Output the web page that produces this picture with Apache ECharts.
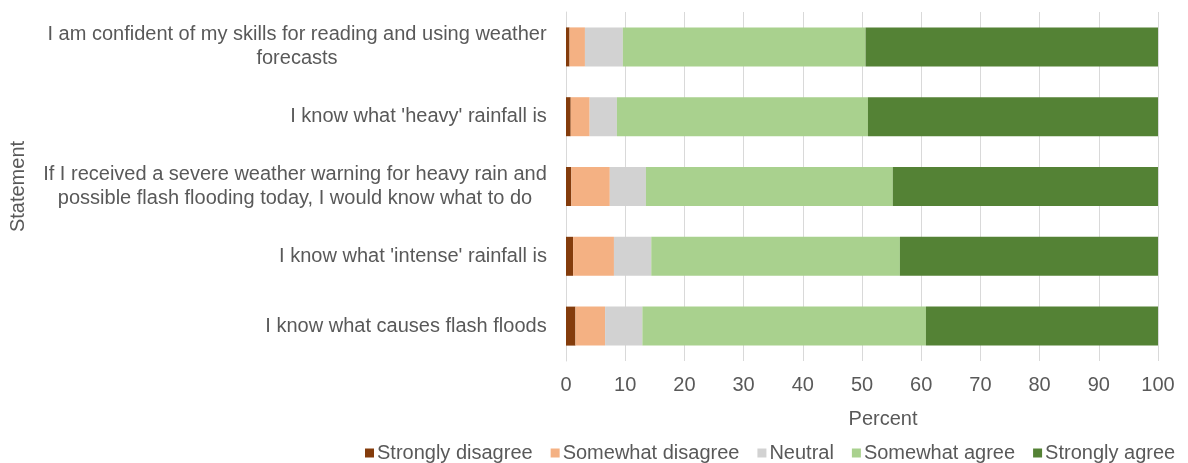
<!DOCTYPE html>
<html>
<head>
<meta charset="utf-8">
<script src="https://cdn.jsdelivr.net/npm/echarts@6/dist/echarts.min.js"></script>
<style>
  html, body { margin: 0; padding: 0; background: #ffffff; }
  #chart { width: 1188px; height: 463px; }
</style>
</head>
<body>
<div id="chart"></div>
<script>
// Survey statements, listed top to bottom
const statements = [
  "I am confident of my skills for reading and using weather\nforecasts",
  "I know what 'heavy' rainfall is",
  "If I received a severe weather warning for heavy rain and\npossible flash flooding today, I would know what to do",
  "I know what 'intense' rainfall is",
  "I know what causes flash floods"
];

// Response shares (percent) per statement, same order as above
const stronglyDisagree = [0.6, 0.8, 0.9, 1.2, 1.6];
const somewhatDisagree = [2.6, 3.2, 6.5, 6.9, 5.0];
const neutral          = [6.4, 4.6, 6.1, 6.3, 6.3];
const somewhatAgree    = [41.0, 42.4, 41.7, 42.0, 47.9];
const stronglyAgree    = [49.4, 49.0, 44.8, 43.6, 39.2];

const responseNames = ["Strongly disagree", "Somewhat disagree", "Neutral", "Somewhat agree", "Strongly agree"];
const responseColors = ["#843c0c", "#f4b183", "#d2d2d2", "#a9d18e", "#548235"];
const responseValues = [stronglyDisagree, somewhatDisagree, neutral, somewhatAgree, stronglyAgree];

const textColor = "#595959";
const font = "Liberation Sans, Arial, sans-serif";
const fontSize = 20;

// Wrapped labels keep their lines centred on each other inside a right-aligned block:
// every line gets a rich box as wide as the label's widest line.
const measureCtx = document.createElement("canvas").getContext("2d");
measureCtx.font = fontSize + "px " + font;
const rich = {};
statements.forEach((s, i) => {
  const lines = s.split("\n");
  const w = Math.ceil(Math.max(...lines.map(l => measureCtx.measureText(l).width)));
  rich["l" + i] = { width: w, align: "center", fontSize: fontSize, color: textColor, fontFamily: font, lineHeight: 24 };
});

const chart = echarts.init(document.getElementById("chart"), null, { renderer: "canvas" });

chart.setOption({
  animation: false,
  backgroundColor: "#ffffff",
  textStyle: { fontFamily: font },
  grid: { left: 566, right: 30, top: 12, bottom: 102, containLabel: false },
  legend: {
    data: responseNames,
    left: 360,
    top: 438,
    icon: "rect",
    itemWidth: 9,
    itemHeight: 9,
    itemGap: 18,
    textStyle: { fontSize: fontSize, color: textColor, fontFamily: font, padding: [0, 0, 0, -2] }
  },
  xAxis: {
    type: "value",
    min: 0,
    max: 100,
    interval: 10,
    name: "Percent",
    nameLocation: "middle",
    nameGap: 48,
    nameTextStyle: { fontSize: fontSize, color: textColor, fontFamily: font, padding: [0, 0, 0, 42] },
    axisLine: { show: false },
    axisTick: { show: false },
    axisLabel: { fontSize: fontSize, color: textColor, fontFamily: font, margin: 14 },
    splitLine: { show: true, lineStyle: { color: "#d9d9d9", width: 1 } }
  },
  yAxis: {
    type: "category",
    data: statements,
    inverse: true,
    name: "Statement",
    nameLocation: "middle",
    nameRotate: 90,
    nameGap: 538,
    nameTextStyle: { fontSize: fontSize, color: textColor, fontFamily: font },
    axisLine: { show: true, lineStyle: { color: "#d9d9d9" } },
    axisTick: { show: false },
    axisLabel: {
      fontSize: fontSize,
      color: textColor,
      fontFamily: font,
      margin: 19,
      lineHeight: 24,
      align: "right",
      rich: rich,
      formatter: (value, index) =>
        value.split("\n").map(line => "{l" + index + "|" + line + "}").join("\n")
    }
  },
  series: responseNames.map((name, i) => ({
    name: name,
    type: "bar",
    stack: "total",
    barWidth: 39,
    itemStyle: { color: responseColors[i] },
    data: responseValues[i]
  }))
});
</script>
</body>
</html>
